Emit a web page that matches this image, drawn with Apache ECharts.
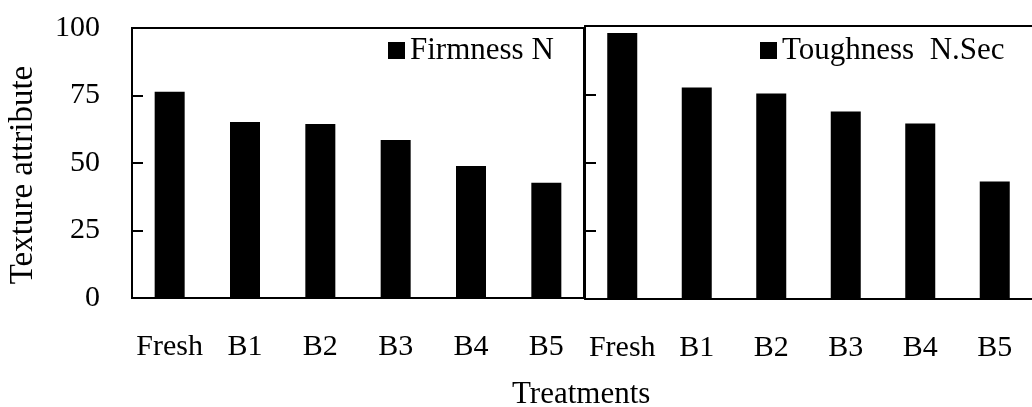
<!DOCTYPE html>
<html>
<head>
<meta charset="utf-8">
<script src="https://cdn.jsdelivr.net/npm/echarts@6/dist/echarts.min.js"></script>
<style>
  html, body { margin: 0; padding: 0; background: #fff; }
  #main { width: 1032px; height: 407px; }
</style>
</head>
<body>
<div id="main"></div>
<script>
const chartDom = document.getElementById('main');
const myChart = echarts.init(chartDom);

// Treatments on the x axis (same for both panels)
const categories = ['Fresh', 'B1', 'B2', 'B3', 'B4', 'B5'];
// Left panel: Firmness (N)
const firmness = [76.4, 65.2, 64.4, 58.5, 48.9, 42.7];
// Right panel: Toughness (N.Sec)
const toughness = [97.4, 77.5, 75.3, 68.7, 64.3, 43.0];
const yTicks = [0, 25, 50, 75, 100];

const serif = 'Liberation Serif';
const fontSize = 30;

const xAxisBase = {
    type: 'category',
    data: categories,
    axisLine: { lineStyle: { color: '#000', width: 2 } },
    axisTick: { show: false },
    axisLabel: { color: '#000', fontFamily: serif, fontSize: fontSize, margin: 34, interval: 0 }
};

const yAxisBase = {
    type: 'value',
    min: yTicks[0],
    max: yTicks[yTicks.length - 1],
    interval: yTicks[1] - yTicks[0],
    splitLine: { show: false },
    axisLine: { show: true, lineStyle: { color: '#000', width: 2 } },
    axisTick: { show: true, inside: true, length: 11, lineStyle: { color: '#000', width: 2 } }
};

const option = {
    backgroundColor: '#fff',
    animation: false,
    title: {
        text: 'Treatments',
        left: 512,
        top: 379,
        padding: 0,
        textStyle: { fontFamily: serif, fontSize: 31, fontWeight: 'normal', color: '#000' }
    },
    legend: [
        {
            data: [{ name: 'Firmness N', icon: 'rect' }],
            left: 388,
            top: 35,
            padding: 0,
            itemWidth: 17,
            itemHeight: 17,
            textStyle: { fontFamily: serif, fontSize: 31, color: '#000' }
        },
        {
            data: [{ name: 'Toughness  N.Sec', icon: 'rect' }],
            left: 760,
            top: 35,
            padding: 0,
            itemWidth: 17,
            itemHeight: 17,
            textStyle: { fontFamily: serif, fontSize: 31, color: '#000' }
        }
    ],
    grid: [
        { left: 132, top: 28, width: 452, height: 270, show: true, borderColor: '#000', borderWidth: 2, backgroundColor: 'transparent' },
        { left: 585, top: 26, right: -4, height: 273 }
    ],
    xAxis: [
        Object.assign({ gridIndex: 0 }, xAxisBase),
        Object.assign({ gridIndex: 1 }, xAxisBase),
        // top frame line of the right panel
        {
            gridIndex: 1,
            type: 'category',
            data: categories,
            position: 'top',
            axisLine: { lineStyle: { color: '#000', width: 2 } },
            axisTick: { show: false },
            axisLabel: { show: false }
        }
    ],
    yAxis: [
        Object.assign({
            gridIndex: 0,
            name: 'Texture attribute',
            nameLocation: 'middle',
            nameGap: 92,
            nameTextStyle: { fontFamily: serif, fontSize: 33, color: '#000', padding: [0, 24, 0, 0] },
            axisLabel: { color: '#000', fontFamily: serif, fontSize: fontSize, margin: 32 }
        }, yAxisBase),
        Object.assign({
            gridIndex: 1,
            axisLabel: { show: false }
        }, yAxisBase)
    ],
    series: [
        {
            name: 'Firmness N',
            type: 'bar',
            xAxisIndex: 0,
            yAxisIndex: 0,
            barWidth: 30,
            data: firmness,
            itemStyle: { color: '#000' }
        },
        {
            name: 'Toughness  N.Sec',
            type: 'bar',
            xAxisIndex: 1,
            yAxisIndex: 1,
            barWidth: 30,
            data: toughness,
            itemStyle: { color: '#000' }
        }
    ]
};

myChart.setOption(option);
window.onresize = () => myChart.resize();
</script>
</body>
</html>
